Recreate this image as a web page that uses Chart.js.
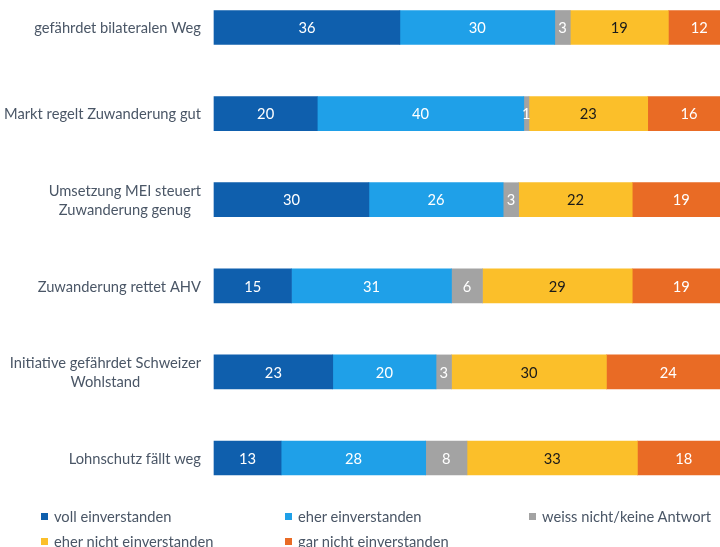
<!DOCTYPE html>
<html>
<head>
<meta charset="utf-8">
<script src="https://cdn.jsdelivr.net/npm/chart.js@4/dist/chart.umd.min.js"></script>
<style>
  body { margin: 0; background: #fff; }
  #wrap { position: relative; width: 720px; height: 547px; }
  #legend { position: absolute; left: 0; top: 0; width: 720px; height: 547px; pointer-events: none;
            font: 14.7px Lato, sans-serif; color: #4a5666; }
  .item { position: absolute; height: 20px; display: flex; align-items: center; white-space: nowrap; }
  .box { width: 7px; height: 7px; margin-right: 6px; }
</style>
</head>
<body>
<div id="wrap">
  <canvas id="chart" width="720" height="547"></canvas>
  <div id="legend"></div>
</div>
<script>
const categories = [
  ['gefährdet bilateralen Weg'],
  ['Markt regelt Zuwanderung gut'],
  ['Umsetzung MEI steuert', 'Zuwanderung genug'],
  ['Zuwanderung rettet AHV'],
  ['Initiative gefährdet Schweizer', 'Wohlstand'],
  ['Lohnschutz fällt weg']
];
const seriesNames = ['voll einverstanden', 'eher einverstanden', 'weiss nicht/keine Antwort', 'eher nicht einverstanden', 'gar nicht einverstanden'];
const vollEinverstanden = [36, 20, 30, 15, 23, 13];
const eherEinverstanden = [30, 40, 26, 31, 20, 28];
const weissNicht = [3, 1, 3, 6, 3, 8];
const eherNicht = [19, 23, 22, 29, 30, 33];
const garNicht = [12, 16, 19, 19, 24, 18];

const colors = ['#0f5fad', '#1fa0e8', '#a3a3a3', '#fbbf2a', '#e96b25'];
const textColors = ['#ffffff', '#ffffff', '#ffffff', '#1a1a1a', '#ffffff'];
const allValues = [vollEinverstanden, eherEinverstanden, weissNicht, eherNicht, garNicht];

const FONT = '14.7px Lato, sans-serif';

// numbers in the middle of every segment
const valueLabels = {
  id: 'valueLabels',
  afterDatasetsDraw(chart) {
    const ctx = chart.ctx;
    ctx.save();
    ctx.font = FONT;
    ctx.textAlign = 'center';
    ctx.textBaseline = 'middle';
    chart.data.datasets.forEach((ds, i) => {
      chart.getDatasetMeta(i).data.forEach((bar, j) => {
        ctx.fillStyle = textColors[i];
        ctx.fillText(ds.data[j], (bar.x + bar.base) / 2, bar.y + 1);
      });
    });
    ctx.restore();
  }
};

// category names: block right aligned, lines centred inside the block
const categoryLabels = {
  id: 'categoryLabels',
  afterDraw(chart) {
    const ctx = chart.ctx;
    const y = chart.scales.y;
    const right = chart.chartArea.left - 13;
    ctx.save();
    ctx.font = FONT;
    ctx.fillStyle = '#4a5666';
    ctx.textAlign = 'center';
    ctx.textBaseline = 'middle';
    categories.forEach((lines, i) => {
      const cy = y.getPixelForValue(i);
      const w = Math.max(...lines.map(l => ctx.measureText(l).width));
      const cx = right - w / 2;
      lines.forEach((l, k) => {
        ctx.fillText(l, cx, cy + 1 + (k - (lines.length - 1) / 2) * 19);
      });
    });
    ctx.restore();
  }
};

new Chart(document.getElementById('chart'), {
  type: 'bar',
  data: {
    labels: categories,
    datasets: allValues.map((vals, i) => ({
      label: seriesNames[i],
      data: vals,
      backgroundColor: colors[i],
      borderWidth: 0,
      barThickness: 34,
      clip: false
    }))
  },
  options: {
    indexAxis: 'y',
    responsive: false,
    animation: false,
    layout: { padding: { left: 214, right: 0, top: 27.5, bottom: 89 } },
    scales: {
      x: { stacked: true, min: 0, max: 98, display: false },
      y: { stacked: true, offset: false, display: false }
    },
    plugins: {
      legend: { display: false },
      tooltip: { enabled: false }
    }
  },
  plugins: [valueLabels, categoryLabels]
});

const legend = document.getElementById('legend');
seriesNames.forEach((name, i) => {
  const item = document.createElement('div');
  item.className = 'item';
  item.style.left = (41 + (i % 3) * 244) + 'px';
  item.style.top = (506 + Math.floor(i / 3) * 25) + 'px';
  item.innerHTML = '<span class="box" style="background:' + colors[i] + '"></span>' + name;
  legend.appendChild(item);
});
</script>
</body>
</html>
